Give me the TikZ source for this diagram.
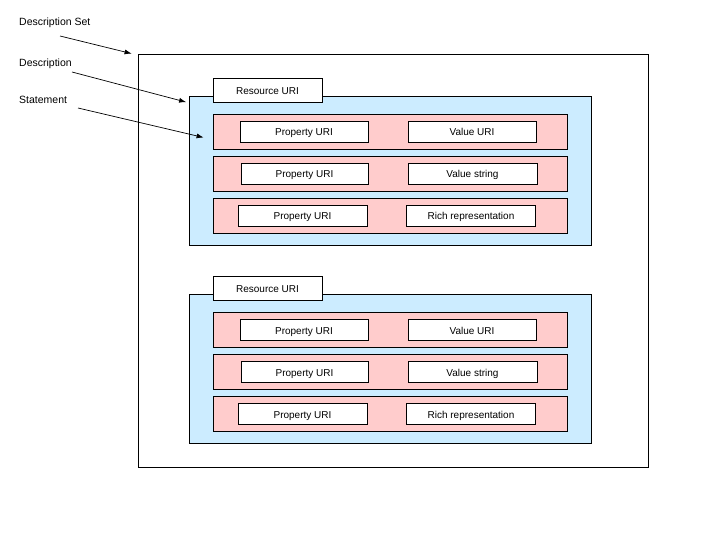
\documentclass[tikz,border=0pt]{standalone}
\usepackage{fontspec}
\setmainfont{Liberation Sans}
\usetikzlibrary{arrows.meta}
\definecolor{descblue}{HTML}{CCECFF}
\definecolor{stmtpink}{HTML}{FFCCCC}
\tikzset{
	box/.style={draw=black, line width=.8pt, inner sep=0pt, text height=9pt, text depth=0pt, font=\fontsize{10}{11}\selectfont},
	setbox/.style={box, fill=white, minimum width=510pt, minimum height=413pt},
	descbox/.style={box, fill=descblue, minimum width=402pt, minimum height=149pt},
	tabbox/.style={box, fill=white, minimum width=109pt, minimum height=24pt},
	stmtbox/.style={box, fill=stmtpink, minimum width=354pt, minimum height=35pt},
	partbox/.style={box, fill=white, minimum width=#1, minimum height=21pt},
	partbox/.default=128pt,
	label/.style={anchor=west, inner sep=0pt, font=\fontsize{10.5}{12}\selectfont},
	pointer/.style={-{Latex[length=7pt,width=5pt]}, line width=.7pt}
}

\begin{document}
\begin{tikzpicture}[x=1pt, y=-1pt]
	\useasboundingbox (0,0) rectangle (720,540);
	\node[setbox] (set) at (393,260.5) {};
	% two descriptions, one below the other
	\foreach \d/\dy in {1/0, 2/198} {
		\node[descbox] (desc\d) at (390.5,171+\dy) {};
		\node[tabbox] (res\d) at (267.5,90+\dy) {Resource URI};
		\foreach \s/\sy/\px/\pw/\vx/\vw/\val in {1/131.5/304/128pt/472/128pt/Value URI, 2/173.5/304.5/127pt/472.5/129pt/Value string, 3/215.5/302.5/129pt/471/129pt/Rich representation} {
			\node[stmtbox] (stmt\d\s) at (390,\sy+\dy) {};
			\node[partbox=\pw] (prop\d\s) at (\px,\sy+\dy) {Property URI};
			\node[partbox=\vw] (val\d\s) at (\vx,\sy+\dy) {\val};
		}
	}
	\node[label] (lset) at (19,23) {Description Set};
	\node[label] (ldesc) at (19,64) {Description};
	\node[label] (lstmt) at (19,100) {Statement};
	\coordinate (pset) at (60,36);
	\coordinate (pdesc) at (72,72);
	\coordinate (pstmt) at (78,108);
	\draw[pointer] (pset) -- ([shift={(-6,0)}]set.north west);
	\draw[pointer] (pdesc) -- ([shift={(-3,6)}]desc1.north west);
	\draw[pointer] (pstmt) -- ([shift={(-9,6)}]stmt11.west);
\end{tikzpicture}
\end{document}
